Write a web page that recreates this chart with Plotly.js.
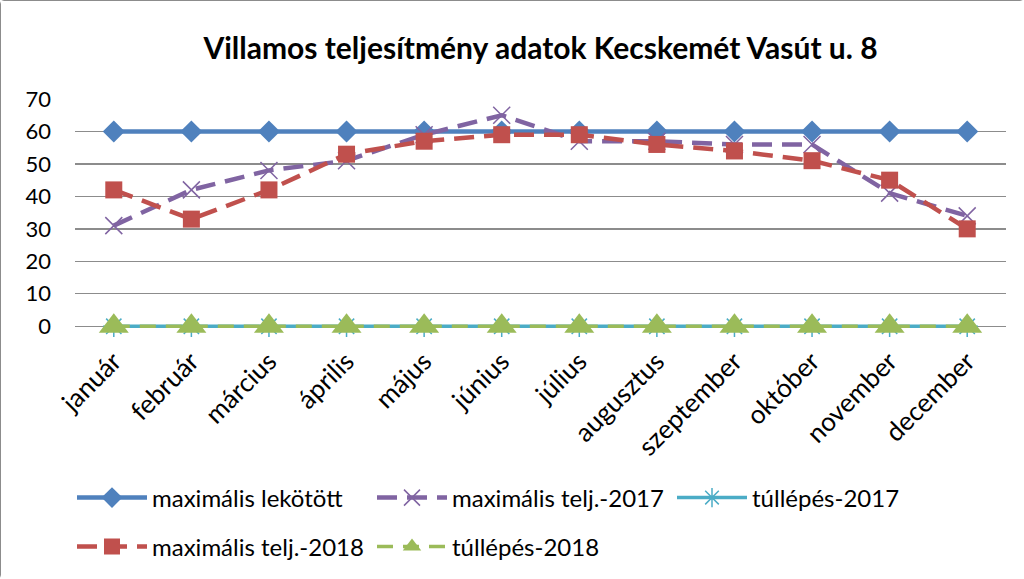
<!DOCTYPE html>
<html><head><meta charset="utf-8">
<script src="https://cdn.plot.ly/plotly-3.0.1.min.js"></script>
<style>
html,body{margin:0;padding:0;background:#fff;}
#chart{width:1024px;height:579px;box-sizing:border-box;border:1px solid #8c8c8c;border-radius:4px;}
</style></head>
<body><div id="chart"></div>
<script>
const months = ["január","február","március","április","május","június","július","augusztus","szeptember","október","november","december"];
const maxLekotott = [60,60,60,60,60,60,60,60,60,60,60,60];
const maxTelj2017 = [31,42,48,51,59,65,57,57,56,56,41,34];
const tullepes2017 = [0,0,0,0,0,0,0,0,0,0,0,0];
const maxTelj2018 = [42,33,42,53,57,59,59,56,54,51,45,30];
const tullepes2018 = [0,0,0,0,0,0,0,0,0,0,0,0];
const seriesNames = ["maximális lekötött","maximális telj.-2017","túllépés-2017","maximális telj.-2018","túllépés-2018"];
const yTicks = [0,10,20,30,40,50,60,70];

const FONT = "Lato, 'Open Sans', sans-serif";
const traces = [
  {x:months,y:tullepes2017,name:seriesNames[2],type:"scatter",mode:"lines+markers",legend:"legend",legendrank:3,cliponaxis:false,
   line:{color:"#4BACC6",width:3.5},marker:{symbol:"asterisk-open",size:18,color:"#4BACC6",line:{color:"#4BACC6",width:1.5}}},
  {x:months,y:tullepes2018,name:seriesNames[4],type:"scatter",mode:"lines+markers",legend:"legend2",legendrank:2,cliponaxis:false,
   line:{color:"#9BBB59",width:3.5,dash:"16px,10px"},marker:{symbol:"triangle-up",size:26,color:"#9BBB59",opacity:1}},
  {x:months,y:maxLekotott,name:seriesNames[0],type:"scatter",mode:"lines+markers",legend:"legend",legendrank:1,cliponaxis:false,
   line:{color:"#4F81BD",width:4.5},marker:{symbol:"diamond",size:17,color:"#4F81BD"}},
  {x:months,y:maxTelj2017,name:seriesNames[1],type:"scatter",mode:"lines+markers",legend:"legend",legendrank:2,cliponaxis:false,
   line:{color:"#8064A2",width:4.5,dash:"20px,10px"},marker:{symbol:"x-thin-open",size:17,color:"#8064A2",line:{color:"#8064A2",width:1.5}}},
  {x:months,y:maxTelj2018,name:seriesNames[3],type:"scatter",mode:"lines+markers",legend:"legend2",legendrank:1,cliponaxis:false,
   line:{color:"#C0504D",width:4.5,dash:"20px,10px"},marker:{symbol:"square",size:17,color:"#C0504D"}}
];

const legendCommon = {orientation:"h",xref:"container",yref:"container",xanchor:"left",yanchor:"middle",
  font:{family:FONT,size:24,color:"#000"},entrywidth:215,entrywidthmode:"pixels",traceorder:"normal",
  bgcolor:"rgba(0,0,0,0)",itemwidth:70};

const layout = {
  width:1024,height:579,
  margin:{l:74,r:19,t:98,b:244},
  paper_bgcolor:"#fff",plot_bgcolor:"#fff",
  title:{text:"<b>Villamos teljesítmény adatok Kecskemét Vasút u. 8</b>",font:{family:FONT,size:30,color:"#000"},
    x:0.5,xanchor:"center",y:1-47/579,yanchor:"middle",xref:"paper"},
  xaxis:{type:"category",range:[-0.5,11.5],tickangle:-45,tickfont:{family:FONT,size:26,color:"#000"},
    showgrid:false,showline:false,zeroline:false,ticks:"",fixedrange:true,ticklabelstandoff:4},
  yaxis:{range:[-3,70],tickvals:yTicks,tickfont:{family:FONT,size:22,color:"#000"},
    showgrid:true,gridcolor:"#8c8c8c",gridwidth:1.3,zeroline:false,showline:false,ticks:"",ticklabelstandoff:23},
  showlegend:true,
  legend:Object.assign({},legendCommon,{x:71/1024,y:1-497/579}),
  legend2:Object.assign({},legendCommon,{x:71/1024,y:1-546/579})
};
Plotly.newPlot("chart",traces,layout,{staticPlot:true,displayModeBar:false});
</script></body></html>
